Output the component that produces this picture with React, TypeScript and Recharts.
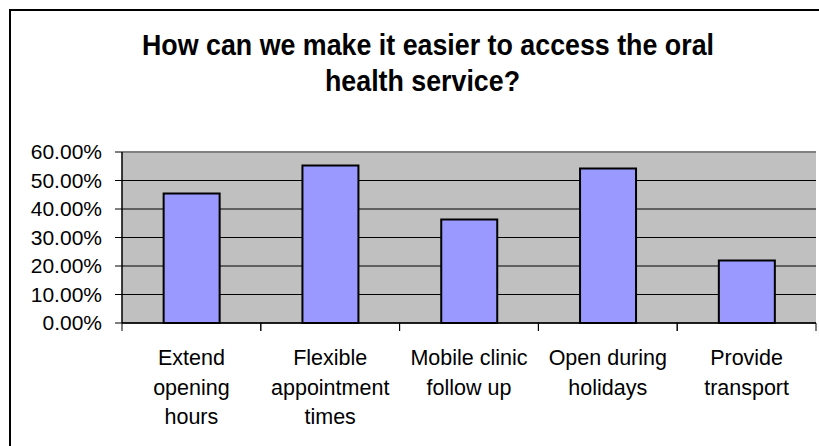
import { BarChart, Bar, XAxis, YAxis, CartesianGrid, ReferenceLine } from "recharts";

// survey answers, share of respondents
const categories = [
  "Extend opening hours",
  "Flexible appointment times",
  "Mobile clinic follow up",
  "Open during holidays",
  "Provide transport",
];
const labelLines = [
  ["Extend", "opening", "hours"],
  ["Flexible", "appointment", "times"],
  ["Mobile clinic", "follow up"],
  ["Open during", "holidays"],
  ["Provide", "transport"],
];
const shares = [0.454, 0.553, 0.363, 0.542, 0.219];
const yTicks = [0, 0.1, 0.2, 0.3, 0.4, 0.5, 0.6];
const titleLines = ["How can we make it easier to access the oral", "health service?"];

const data = categories.map((name, i) => ({ name, value: shares[i] }));

const FONT = "'Liberation Sans', Arial, sans-serif";

// category label plus tick marks on both edges of the band (Excel style)
const CategoryTick = (props: any) => {
  const { x, y, payload } = props;
  const half = payload.offset || 0;
  const lines = labelLines[payload.index] || [payload.value];
  return (
    <g>
      <line x1={x - half} x2={x - half} y1={y} y2={y + 8} stroke="#000" />
      <line x1={x + half} x2={x + half} y1={y} y2={y + 8} stroke="#000" />
      <text x={x} y={y} textAnchor="middle" fontFamily={FONT} fontSize={21.5} fill="#000">
        {lines.map((l: string, i: number) => (
          <tspan key={i} x={x} dy={i === 0 ? 42 : 29.7}>
            {l}
          </tspan>
        ))}
      </text>
    </g>
  );
};

export default function App() {
  return (
    <div
      style={{
        position: "absolute",
        left: 0,
        top: 0,
        width: 819,
        height: 446,
        overflow: "hidden",
        background: "#fff",
      }}
    >
      <div
        style={{
          position: "absolute",
          left: 9,
          top: 9,
          width: 1000,
          height: 1000,
          borderLeft: "2px solid #000",
          borderTop: "2px solid #000",
        }}
      />
      <svg width={819} height={446} style={{ position: "absolute", left: 0, top: 0 }}>
        <text
          x={428}
          y={55}
          textAnchor="middle"
          fontFamily={FONT}
          fontWeight="bold"
          fontSize={30}
          textLength={572}
          lengthAdjust="spacingAndGlyphs"
        >
          {titleLines[0]}
        </text>
        <text
          x={422.5}
          y={91}
          textAnchor="middle"
          fontFamily={FONT}
          fontWeight="bold"
          fontSize={30}
          textLength={195}
          lengthAdjust="spacingAndGlyphs"
        >
          {titleLines[1]}
        </text>
      </svg>
      <div style={{ position: "absolute", left: 0, top: 0 }}>
        <BarChart
          width={819}
          height={446}
          data={data}
          margin={{ top: 152, right: 3, bottom: 13, left: 0 }}
          barCategoryGap="30%"
        >
          <CartesianGrid vertical={false} fill="#C0C0C0" stroke="#000" strokeWidth={1} />
          <XAxis
            dataKey="name"
            height={110}
            interval={0}
            tickLine={false}
            axisLine={{ stroke: "#000", strokeWidth: 1.5 }}
            tickSize={0}
            tickMargin={0}
            tick={<CategoryTick />}
          />
          <YAxis
            domain={[0, 0.6]}
            ticks={yTicks}
            interval={0}
            width={122}
            tickSize={7}
            tickMargin={13}
            tickFormatter={(v: number) => (v * 100).toFixed(2) + "%"}
            tick={{ fontFamily: FONT, fontSize: 21, fill: "#000" }}
            tickLine={{ stroke: "#000" }}
            axisLine={{ stroke: "#000", strokeWidth: 1.5 }}
          />
          <YAxis
            yAxisId="frame"
            orientation="right"
            width={0}
            tick={false}
            tickLine={false}
            axisLine={{ stroke: "#808080", strokeWidth: 2 }}
          />
          <ReferenceLine y={0.6} stroke="#808080" strokeWidth={2} />
          <Bar
            dataKey="value"
            fill="#9999FF"
            stroke="#000"
            strokeWidth={2}
            isAnimationActive={false}
          />
        </BarChart>
      </div>
    </div>
  );
}
